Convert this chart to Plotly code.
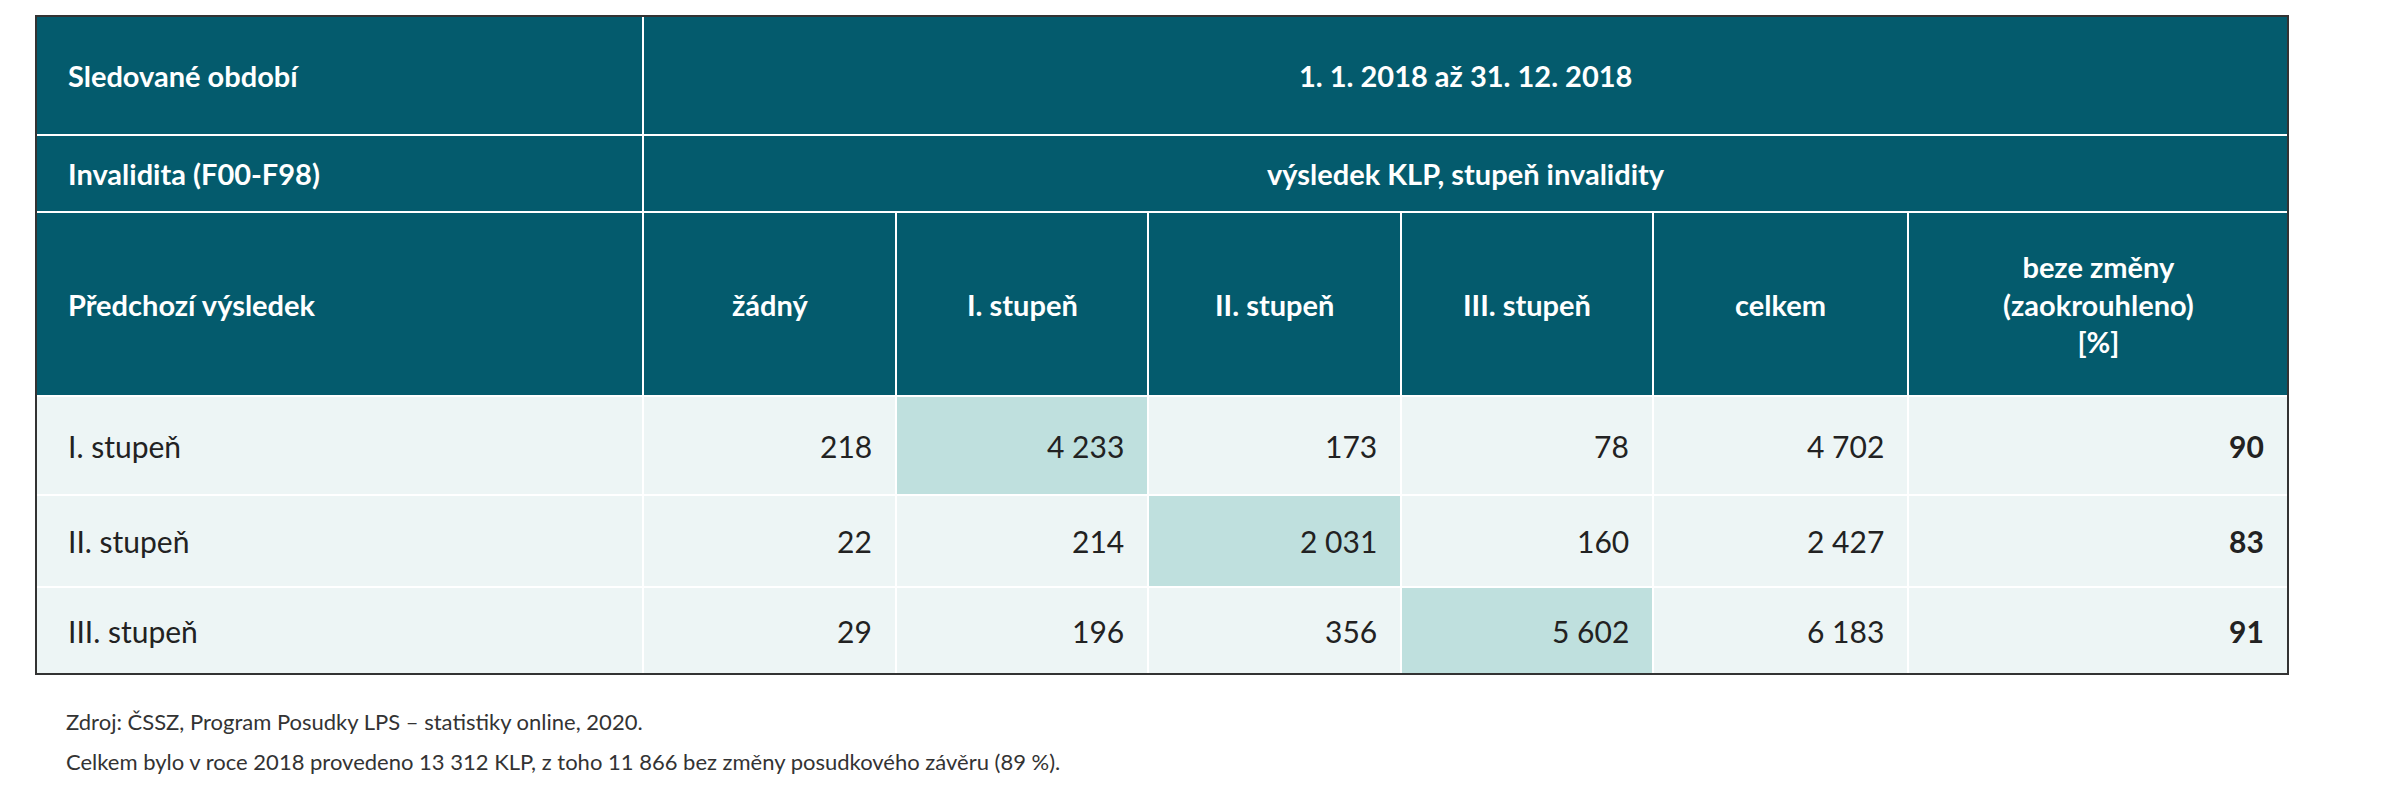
import plotly.graph_objects as go

# data
period_label = "Sledované období"
period_value = "1. 1. 2018 až 31. 12. 2018"
group_label = "Invalidita (F00-F98)"
group_value = "výsledek KLP, stupeň invalidity"
columns = ["Předchozí výsledek", "žádný", "I. stupeň", "II. stupeň", "III. stupeň", "celkem",
           "beze změny<br>(zaokrouhleno)<br>[%]"]
row_labels = ["I. stupeň", "II. stupeň", "III. stupeň"]
zadny = [218, 22, 29]
stupen1 = [4233, 214, 196]
stupen2 = [173, 2031, 356]
stupen3 = [78, 160, 5602]
celkem = [4702, 2427, 6183]
beze_zmeny = [90, 83, 91]
notes = ["Zdroj: ČSSZ, Program Posudky LPS – statistiky online, 2020.",
         "Celkem bylo v roce 2018 provedeno 13 312 KLP, z toho 11 866 bez změny posudkového závěru (89 %)."]

DARK = "#045b6d"
LIGHT = "#edf5f5"
HIGH = "#bfe0de"
FONT = "Lato"

xs = [28, 635, 888, 1140, 1393, 1645, 1900, 2280]
ys = [8, 127, 204, 388, 487, 579, 666]

def fmt(v):
    return f"{v:,}".replace(",", " ")

fig = go.Figure()
shapes, ann = [], []

def cell(x0, x1, y0, y1, color):
    shapes.append(dict(type="rect", x0=x0, x1=x1, y0=y0, y1=y1, fillcolor=color,
                       line=dict(color="white", width=2), layer="below"))

def text(x, y, s, anchor, bold=False, color="white", size=29):
    ann.append(dict(x=x, y=y, text=f"<b>{s}</b>" if bold else s, showarrow=False,
                    xanchor=anchor, yanchor="middle", font=dict(family=FONT, size=size, color=color)))

# header rows
for r, (lab, val) in enumerate([(period_label, period_value), (group_label, group_value)]):
    cell(xs[0], xs[1], ys[r], ys[r + 1], DARK)
    cell(xs[1], xs[-1], ys[r], ys[r + 1], DARK)
    text(xs[0] + 30, (ys[r] + ys[r + 1]) / 2, lab, "left", True)
    text((xs[1] + xs[-1]) / 2, (ys[r] + ys[r + 1]) / 2, val, "center", True)
for c, lab in enumerate(columns):
    cell(xs[c], xs[c + 1], ys[2], ys[3], DARK)
    if c == 0:
        text(xs[0] + 30, (ys[2] + ys[3]) / 2, lab, "left", True)
    else:
        text((xs[c] + xs[c + 1]) / 2, (ys[2] + ys[3]) / 2, lab, "center", True)

# data rows
for r, lab in enumerate(row_labels):
    y0, y1 = ys[3 + r], ys[4 + r]
    ym = (y0 + y1) / 2
    vals = [zadny[r], stupen1[r], stupen2[r], stupen3[r], celkem[r], beze_zmeny[r]]
    cell(xs[0], xs[1], y0, y1, LIGHT)
    text(xs[0] + 30, ym, lab, "left", color="#222", size=30)
    for c, v in enumerate(vals):
        cell(xs[c + 1], xs[c + 2], y0, y1, HIGH if c == r + 1 else LIGHT)
        text(xs[c + 2] - 22, ym, fmt(v), "right", bold=(c == 5), color="#222", size=30)

# outer border
shapes.append(dict(type="rect", x0=xs[0], x1=xs[-1], y0=ys[0], y1=ys[-1],
                   line=dict(color="#333", width=2)))

text(xs[0] + 28, 713, notes[0], "left", color="#333", size=22)
text(xs[0] + 28, 753, notes[1], "left", color="#333", size=22)

fig.update_layout(width=2400, height=800, margin=dict(l=0, r=0, t=0, b=0),
                  plot_bgcolor="white", paper_bgcolor="white",
                  shapes=shapes, annotations=ann,
                  xaxis=dict(range=[0, 2400], visible=False, fixedrange=True),
                  yaxis=dict(range=[800, 0], visible=False, fixedrange=True))
fig.write_html("out.html")
